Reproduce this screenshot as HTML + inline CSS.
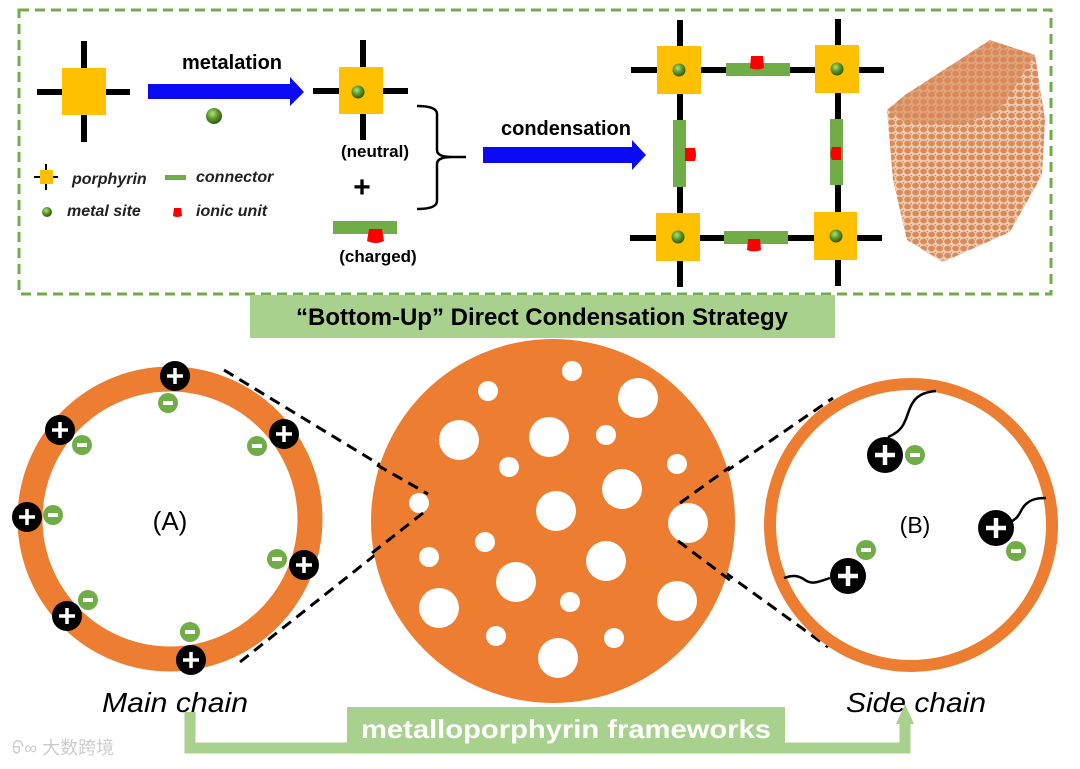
<!DOCTYPE html>
<html><head><meta charset="utf-8"><style>
html,body{margin:0;padding:0;background:#fff;}
svg{display:block;}
text{font-family:"Liberation Sans","Noto Sans CJK SC",sans-serif;}
</style></head><body>
<svg width="1080" height="769" viewBox="0 0 1080 769" xmlns="http://www.w3.org/2000/svg">
<defs>
<radialGradient id="ball" cx="40%" cy="35%" r="65%"><stop offset="0" stop-color="#b8e07a"/><stop offset="0.5" stop-color="#5f9a2c"/><stop offset="1" stop-color="#2f5a12"/></radialGradient>
<pattern id="foam" width="8" height="7" patternUnits="userSpaceOnUse">
<rect width="8" height="7" fill="#f0cdb2"/>
<ellipse cx="3.6" cy="3.5" rx="3.4" ry="2.9" fill="#d98a5a"/>
<ellipse cx="7.8" cy="0" rx="1.4" ry="1.4" fill="#d98a5a"/>
</pattern>
</defs>

<rect x="19" y="10" width="1032" height="284" fill="none" stroke="#70ad47" stroke-width="3" stroke-dasharray="10,6"/>

<g fill="#000"><rect x="37" y="89" width="93" height="6"/><rect x="81" y="41" width="6" height="101"/></g>
<rect x="62" y="68" width="44" height="47" fill="#ffc000"/>
<polygon points="148,84 290,84 290,77 304,92 290,106 290,99 148,99" fill="#0a0af5"/>
<text x="232" y="69" font-size="20" font-weight="bold" text-anchor="middle">metalation</text>
<circle cx="214" cy="116" r="8" fill="url(#ball)"/>

<g fill="#000"><rect x="313" y="88" width="95" height="6"/><rect x="360" y="40" width="6" height="100"/></g>
<rect x="339" y="67" width="44" height="47" fill="#ffc000"/>
<circle cx="358" cy="92" r="6.5" fill="url(#ball)"/>
<text x="375" y="157" font-size="17" font-weight="bold" text-anchor="middle">(neutral)</text>
<text x="362" y="197" font-size="30" font-weight="bold" text-anchor="middle">+</text>
<rect x="333" y="221" width="64" height="13" fill="#70ad47"/>
<path d="M369,229 L382,229 L384,241 Q376,245 367,241 Z" fill="#f00"/>
<text x="378" y="262" font-size="17" font-weight="bold" text-anchor="middle">(charged)</text>
<path d="M417,106 Q437,106 437,114 L437,150 Q437,157 452,157 L466,157 M452,157 Q437,157 437,164 L437,201 Q437,209 417,209" fill="none" stroke="#000" stroke-width="2.5"/>

<g fill="#000"><rect x="34" y="176" width="24" height="2"/><rect x="45" y="164" width="2" height="26"/></g>
<rect x="40" y="170" width="13" height="14" fill="#ffc000"/>
<text x="72" y="184" font-size="16" font-style="italic" font-weight="bold" fill="#222">porphyrin</text>
<rect x="165" y="175" width="21" height="5" fill="#70ad47"/>
<text x="196" y="182" font-size="16" font-style="italic" font-weight="bold" fill="#222">connector</text>
<circle cx="47" cy="212" r="5" fill="url(#ball)"/>
<text x="67" y="216" font-size="16" font-style="italic" font-weight="bold" fill="#222">metal site</text>
<path d="M174,208 L181,208 L182,216 Q177,218 173,216 Z" fill="#f00"/>
<text x="196" y="216" font-size="16" font-style="italic" font-weight="bold" fill="#222">ionic unit</text>

<text x="566" y="135" font-size="20" font-weight="bold" text-anchor="middle">condensation</text>
<polygon points="483,147 632,147 632,140 646,155 632,170 632,163 483,163" fill="#0a0af5"/>

<g fill="#000">
<rect x="631" y="67" width="253" height="6"/><rect x="630" y="235" width="252" height="6"/>
<rect x="677" y="20" width="6" height="267"/><rect x="835" y="19" width="6" height="267"/>
</g>
<g fill="#ffc000">
<rect x="657" y="46" width="44" height="48"/><rect x="815" y="45" width="44" height="48"/>
<rect x="656" y="213" width="44" height="48"/><rect x="814" y="212" width="43" height="48"/>
</g>
<g fill="url(#ball)"><circle cx="679" cy="70" r="6.5"/><circle cx="837" cy="69" r="6.5"/><circle cx="678" cy="237" r="6.5"/><circle cx="836" cy="236" r="6.5"/></g>
<g fill="#70ad47">
<rect x="726" y="63" width="64" height="13"/><rect x="724" y="231" width="64" height="13"/>
<rect x="673" y="120" width="13" height="67"/><rect x="830" y="119" width="13" height="66"/>
</g>
<g fill="#f00">
<path d="M751,56 L763,56 L764,68 Q757,71 750,68 Z"/>
<path d="M748,239 L760,239 L761,250 Q754,253 747,250 Z"/>
<path d="M685,148 L695,148 Q697,155 695,161 L685,161 Z"/>
<path d="M841,147 L832,147 Q829,154 832,160 L841,160 Z"/>
</g>

<!-- foam block -->
<polygon points="887,110 905,95 990,40 1035,55 1045,120 1042,175 1010,232 943,262 907,240 893,180" fill="url(#foam)"/>
<polygon points="887,110 905,95 990,40 1035,55 1000,110 960,125 905,122" fill="#d98a5a" opacity="0.6"/>

<rect x="250" y="295" width="585" height="43" fill="#a9d18e"/>
<text x="542" y="325" font-size="24" font-weight="bold" text-anchor="middle">“Bottom-Up” Direct Condensation Strategy</text>

<g stroke="#000" stroke-width="3" stroke-dasharray="11,7" fill="none">
<line x1="224" y1="370" x2="428" y2="494"/>
<line x1="240" y1="662" x2="428" y2="513"/>
<line x1="680" y1="503" x2="833" y2="398"/>
<line x1="680" y1="540" x2="828" y2="647"/>
</g>

<circle cx="170" cy="519" r="140" fill="none" stroke="#ed7d31" stroke-width="25"/>
<text x="170" y="530" font-size="26" text-anchor="middle">(A)</text>
<g fill="#70ad47">
<circle cx="168" cy="403" r="10"/><circle cx="82" cy="445" r="10"/><circle cx="257" cy="446" r="10"/><circle cx="53" cy="515" r="10"/><circle cx="277" cy="559" r="10"/><circle cx="88" cy="600" r="10"/><circle cx="190" cy="632" r="10"/>
</g>
<g fill="#fff">
<rect x="163" y="401" width="10" height="4"/><rect x="77" y="443" width="10" height="4"/><rect x="252" y="444" width="10" height="4"/><rect x="48" y="513" width="10" height="4"/><rect x="272" y="557" width="10" height="4"/><rect x="83" y="598" width="10" height="4"/><rect x="185" y="630" width="10" height="4"/>
</g>
<g fill="#000">
<circle cx="175" cy="376" r="15"/><circle cx="60" cy="430" r="15"/><circle cx="284" cy="434" r="15"/><circle cx="27" cy="517" r="15"/><circle cx="304" cy="565" r="15"/><circle cx="67" cy="616" r="15"/><circle cx="191" cy="660" r="15"/>
</g>
<g stroke="#fff" stroke-width="3.5">
<path d="M167,376h16M175,368v16"/><path d="M52,430h16M60,422v16"/><path d="M276,434h16M284,426v16"/><path d="M19,517h16M27,509v16"/><path d="M296,565h16M304,557v16"/><path d="M59,616h16M67,608v16"/><path d="M183,660h16M191,652v16"/>
</g>

<circle cx="553" cy="521" r="182" fill="#ed7d31"/>
<g fill="#fff">
<circle cx="572" cy="371" r="10"/><circle cx="488" cy="391" r="10"/><circle cx="638" cy="398" r="20"/><circle cx="459" cy="440" r="20"/><circle cx="549" cy="437" r="20"/><circle cx="606" cy="435" r="10"/><circle cx="509" cy="467" r="10"/><circle cx="677" cy="464" r="10"/><circle cx="622" cy="489" r="20"/><circle cx="419" cy="503" r="10"/><circle cx="556" cy="511" r="20"/><circle cx="688" cy="523" r="20"/><circle cx="485" cy="542" r="10"/><circle cx="429" cy="557" r="10"/><circle cx="606" cy="561" r="20"/><circle cx="516" cy="582" r="20"/><circle cx="439" cy="608" r="20"/><circle cx="570" cy="602" r="10"/><circle cx="677" cy="601" r="20"/><circle cx="496" cy="636" r="10"/><circle cx="614" cy="638" r="10"/><circle cx="558" cy="658" r="20"/>
</g>
<g stroke="#000" stroke-width="3" stroke-dasharray="11,7" fill="none">
<line x1="377" y1="465" x2="428" y2="494"/><line x1="372" y1="553" x2="423" y2="513"/>
<line x1="680" y1="503" x2="730" y2="467"/><line x1="678" y1="541" x2="730" y2="580"/>
</g>

<circle cx="911" cy="525" r="141" fill="none" stroke="#ed7d31" stroke-width="12"/>
<text x="915" y="533" font-size="23" text-anchor="middle">(B)</text>
<g fill="none" stroke="#000" stroke-width="2.5">
<path d="M888,437 C905,430 905,420 910,408 C915,395 925,392 936,391"/>
<path d="M1010,522 C1020,518 1020,510 1025,505 C1030,500 1035,498 1046,498"/>
<path d="M830,578 C818,582 812,585 805,580 C798,575 792,575 784,578"/>
</g>
<g fill="#70ad47"><circle cx="915" cy="455" r="10"/><circle cx="1016" cy="551" r="10"/><circle cx="866" cy="550" r="10"/></g>
<g fill="#fff"><rect x="910" y="453" width="10" height="4"/><rect x="1011" y="549" width="10" height="4"/><rect x="861" y="548" width="10" height="4"/></g>
<g fill="#000"><circle cx="885" cy="455" r="18"/><circle cx="996" cy="528" r="18"/><circle cx="848" cy="576" r="18"/></g>
<g stroke="#fff" stroke-width="4.5">
<path d="M875,455h20M885,445v20"/><path d="M986,528h20M996,518v20"/><path d="M838,576h20M848,566v20"/>
</g>

<text x="175" y="712" font-size="28" font-style="italic" text-anchor="middle" textLength="146" lengthAdjust="spacingAndGlyphs">Main chain</text>
<text x="916" y="712" font-size="28" font-style="italic" text-anchor="middle" textLength="140" lengthAdjust="spacingAndGlyphs">Side chain</text>
<path d="M190,712 V748 H905 V722" fill="none" stroke="#a9d18e" stroke-width="11"/>
<polygon points="896,724 914,724 905,704" fill="#a9d18e"/>
<rect x="347" y="707" width="438" height="41" fill="#a9d18e"/>
<text x="566" y="738" font-size="26" font-weight="bold" fill="#fff" text-anchor="middle" textLength="410" lengthAdjust="spacingAndGlyphs">metalloporphyrin frameworks</text>
<text x="12" y="754" font-size="18" fill="#ccc">ᠪ∞ 大数跨境</text>
</svg>
</body></html>
